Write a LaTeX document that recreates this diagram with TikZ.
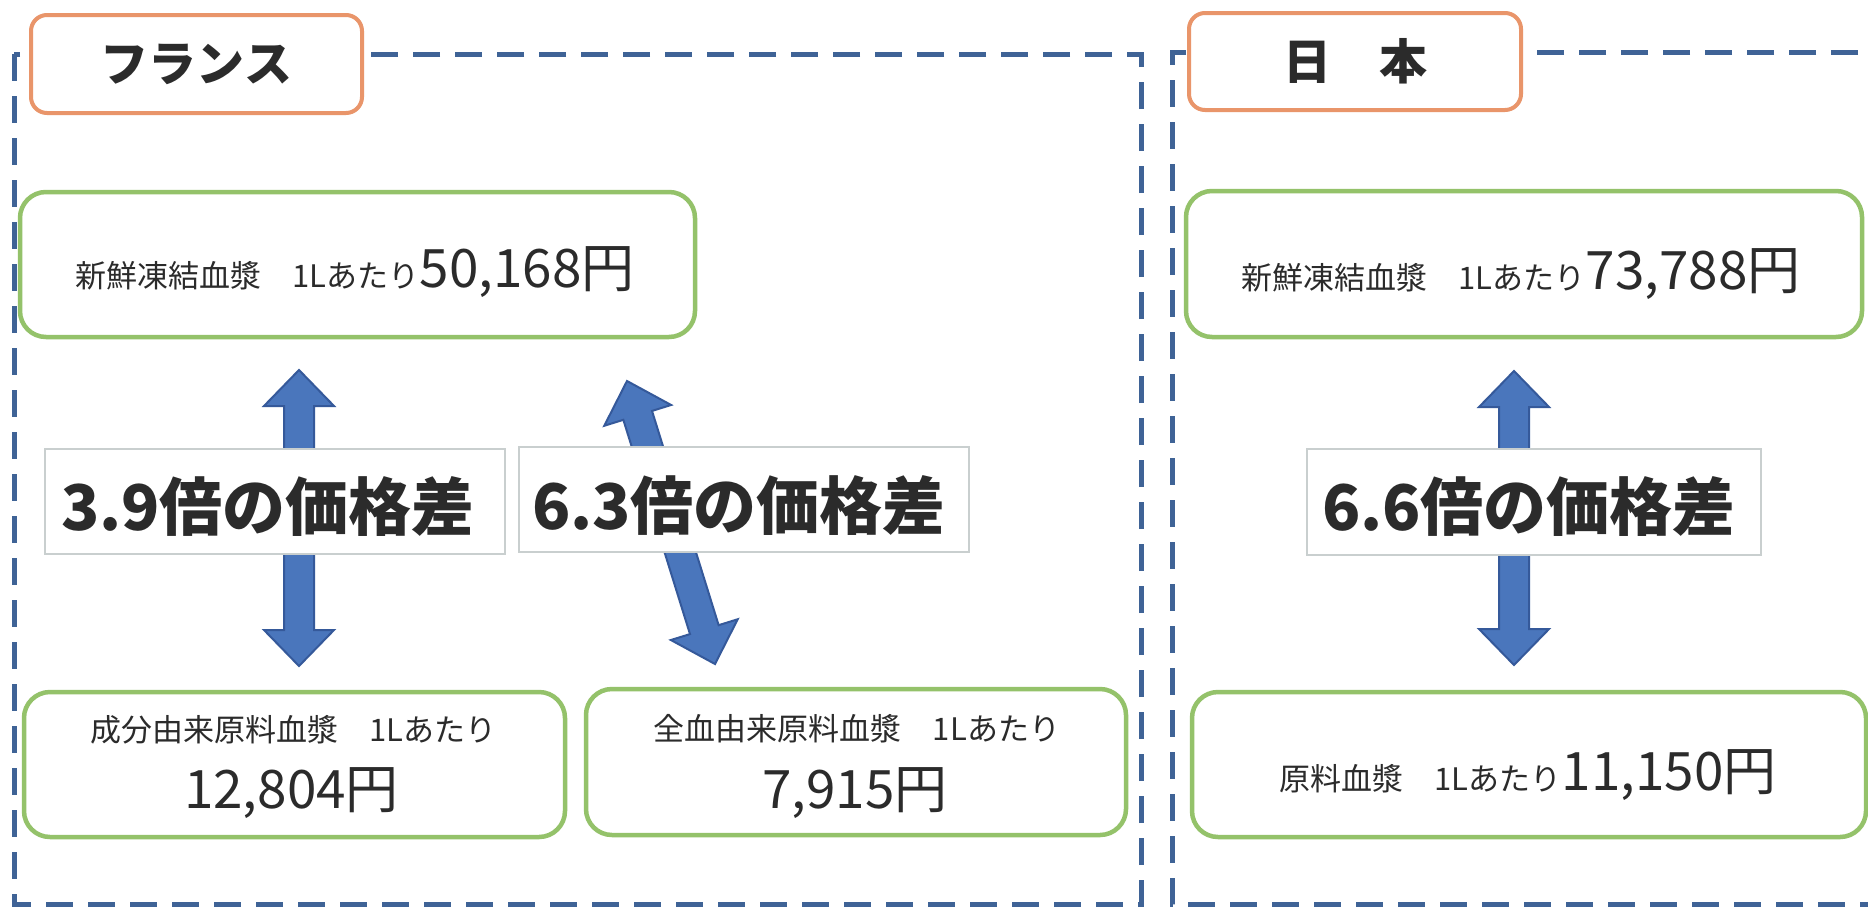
\documentclass[tikz,border=0pt]{standalone}
\usepackage{fontspec}
\setmainfont{Noto Sans CJK JP}
\usetikzlibrary{calc}
\definecolor{dashblue}{HTML}{3F6396}
\definecolor{boxgreen}{HTML}{94C26A}
\definecolor{laborange}{HTML}{E9956A}
\definecolor{arrfill}{HTML}{4A76BC}
\definecolor{arrline}{HTML}{35599A}
\definecolor{labgray}{HTML}{C9CFCF}
\definecolor{txt}{HTML}{2B2B2B}
\newcommand{\blkarrow}[3]{%
  \coordinate (#1a) at #2;
  \coordinate (#1b) at #3;
  \coordinate (#1ha) at ($(#1a)!36pt!(#1b)$);
  \coordinate (#1hb) at ($(#1b)!36pt!(#1a)$);
  \draw[arrowsty] (#1a)
    -- ($(#1ha)!35pt!90:(#1a)$) -- ($(#1ha)!15pt!90:(#1a)$)
    -- ($(#1hb)!15pt!-90:(#1b)$) -- ($(#1hb)!35pt!-90:(#1b)$)
    -- (#1b)
    -- ($(#1hb)!35pt!90:(#1b)$) -- ($(#1hb)!15pt!90:(#1b)$)
    -- ($(#1ha)!15pt!-90:(#1a)$) -- ($(#1ha)!35pt!-90:(#1a)$)
    -- cycle;
}
\begin{document}
\begin{tikzpicture}[x=1pt,y=-1pt,
  frame/.style={draw=dashblue, line width=5pt, dash pattern=on 27pt off 15pt},
  gbox/.style={draw=boxgreen, line width=4.5pt, rounded corners=26pt, fill=white, inner sep=0pt},
  obox/.style={draw=laborange, line width=4pt, rounded corners=16pt, fill=white, inner sep=0pt, text=txt, font=\fontsize{48pt}{56pt}\selectfont\bfseries},
  lbox/.style={draw=labgray, line width=2.5pt, fill=white, inner sep=0pt},
  labtxt/.style={anchor=base, inner sep=0pt, text=txt, font=\fontsize{63pt}{70pt}\selectfont\bfseries},
  ptxt/.style={anchor=base, inner sep=0pt, text=txt, font=\fontsize{31pt}{36pt}\selectfont},
  arrowsty/.style={fill=arrfill, draw=arrline, line width=2pt, line join=miter},
]
\useasboundingbox (0,0) rectangle (1868,908);
\fill[white] (0,0) rectangle (1868,908);
\begin{scope}
  \clip (0,0) rectangle (1868,908);
  \draw[frame] (14,54) rectangle (1141,904);
  \draw[frame] (1900,52) -- (1172,52) -- (1172,904) -- (1900,904);
\end{scope}

% block arrows
\blkarrow{aL}{(299,370)}{(299,666)}
\blkarrow{aM}{(627,381)}{(715,664)}
\blkarrow{aR}{(1514,371)}{(1514,665)}

% price-gap labels
\node[lbox, minimum width=460pt, minimum height=105pt] (l39) at (275,501.5) {};
\node[labtxt] (l39t) at (268,530) {3.9倍の価格差};
\node[lbox, minimum width=450pt, minimum height=105pt] (l63) at (744,499.5) {};
\node[labtxt] (l63t) at (739,529) {6.3倍の価格差};
\node[lbox, minimum width=454pt, minimum height=106pt] (l66) at (1534,502) {};
\node[labtxt] (l66t) at (1529,530) {6.6倍の価格差};

% price boxes
\node[gbox, minimum width=675pt, minimum height=145pt] (ftop) at (357.5,264.5) {};
\node[ptxt] (ftopt) at (355,287) {新鮮凍結血漿　1Lあたり{\fontsize{53pt}{60pt}\selectfont 50,168円}};
\node[gbox, minimum width=541pt, minimum height=145pt] (fbl) at (294.5,764.5) {};
\node[ptxt] (fbl1) at (293.5,741) {成分由来原料血漿　1Lあたり};
\node[ptxt, font=\fontsize{53pt}{60pt}\selectfont] (fbl2) at (291.5,808) {12,804円};
\node[gbox, minimum width=540pt, minimum height=146pt] (fbr) at (856,762) {};
\node[ptxt] (fbr1) at (857,740) {全血由来原料血漿　1Lあたり};
\node[ptxt, font=\fontsize{53pt}{60pt}\selectfont] (fbr2) at (855,808) {7,915円};
\node[gbox, minimum width=676pt, minimum height=146pt] (jtop) at (1524,264) {};
\node[ptxt] (jtopt) at (1521,289) {新鮮凍結血漿　1Lあたり{\fontsize{53pt}{60pt}\selectfont 73,788円}};
\node[gbox, minimum width=674pt, minimum height=145pt] (jbot) at (1529,764.5) {};
\node[ptxt] (jbott) at (1528,790) {原料血漿　1Lあたり{\fontsize{53pt}{60pt}\selectfont 11,150円}};

% country labels
\node[obox, minimum width=331pt, minimum height=98pt] (fr) at (196.5,64) {フランス};
\node[obox, minimum width=332pt, minimum height=97pt] (jp) at (1355,61.5) {日　本};
\end{tikzpicture}
\end{document}
